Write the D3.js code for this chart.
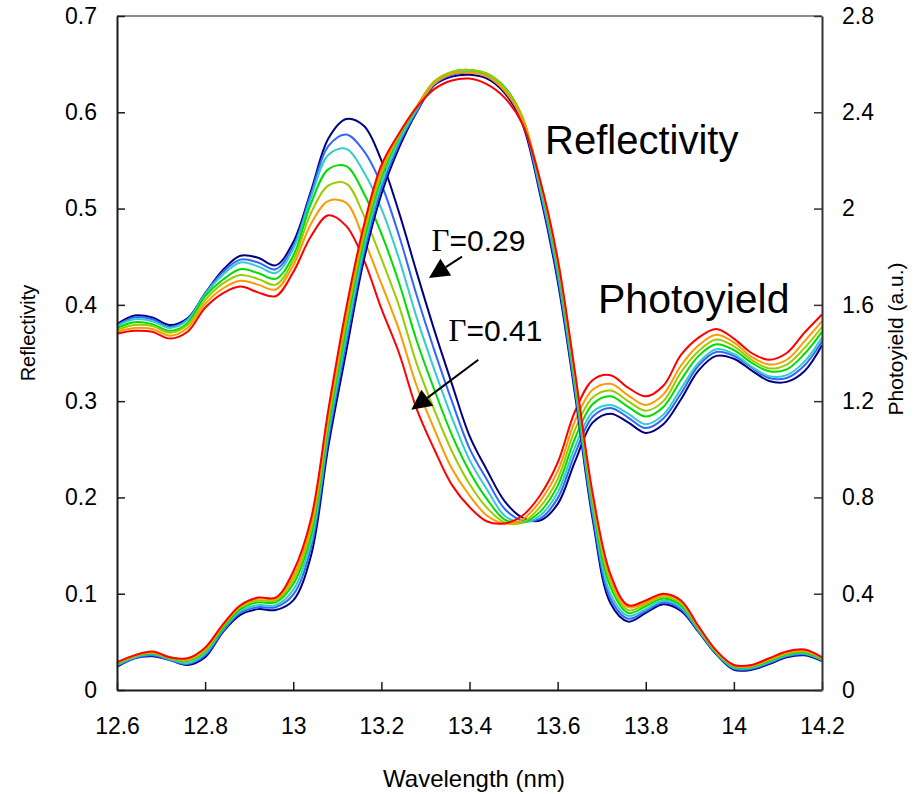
<!DOCTYPE html>
<html>
<head>
<meta charset="utf-8">
<script src="https://cdn.jsdelivr.net/npm/d3@7"></script>
<style>
  html, body { margin: 0; padding: 0; background: #fff; }
  svg { display: block; }
  text { font-family: "Liberation Sans", Arial, Helvetica, sans-serif; fill: #000; }
</style>
</head>
<body>
<svg id="chart" width="914" height="794"></svg>
<script>
// Wavelength grid (nm), shared by every curve
const wavelength = [12.60,12.64,12.68,12.72,12.76,12.80,12.84,12.88,12.92,12.96,
  13.00,13.04,13.08,13.12,13.16,13.20,13.24,13.28,13.32,13.36,
  13.40,13.44,13.48,13.52,13.56,13.60,13.64,13.68,13.72,13.76,
  13.80,13.84,13.88,13.92,13.96,14.00,14.04,14.08,14.12,14.16,14.20];

// Roughness parameter of each curve, from Γ=0.29 to Γ=0.41
const gammaLabels = ["0.29","0.31","0.33","0.35","0.37","0.39","0.41"];
const seriesColors = ["#000080","#3366ff","#33cccc","#00dd00","#99cc00","#ff9900","#ff0000"];

// Reflectivity (left axis)
const refl029 = [.024,.033,.035,.031,.026,.034,.060,.078,.084,.083,.093,.139,.254,.351,.446,.515,.563,.600,.628,.637,.639,.635,.620,.588,.515,.425,.305,.176,.090,.071,.080,.089,.082,.060,.037,.021,.021,.027,.034,.036,.030];
const refl031 = [.025,.033,.036,.031,.027,.036,.061,.080,.086,.086,.099,.147,.262,.360,.453,.521,.567,.601,.629,.639,.641,.637,.622,.591,.519,.430,.310,.181,.095,.074,.082,.091,.084,.061,.038,.022,.022,.028,.035,.037,.031];
const refl033 = [.026,.034,.037,.032,.028,.038,.063,.082,.088,.088,.104,.153,.268,.367,.459,.526,.570,.603,.630,.640,.642,.638,.624,.593,.522,.435,.314,.186,.100,.077,.084,.093,.086,.062,.038,.023,.023,.029,.036,.038,.031];
const refl035 = [.027,.035,.038,.033,.030,.040,.064,.084,.091,.091,.110,.160,.275,.376,.466,.532,.574,.605,.632,.642,.644,.640,.626,.595,.526,.440,.319,.192,.107,.080,.087,.095,.088,.063,.039,.024,.024,.030,.037,.039,.032];
const refl037 = [.028,.035,.039,.033,.031,.041,.066,.086,.093,.093,.114,.166,.281,.383,.472,.536,.576,.606,.632,.642,.644,.640,.625,.595,.528,.444,.323,.196,.112,.083,.089,.097,.090,.064,.040,.025,.025,.031,.038,.040,.033];
const refl039 = [.028,.036,.039,.034,.032,.043,.067,.087,.095,.095,.118,.171,.286,.389,.477,.540,.577,.606,.630,.640,.641,.637,.622,.593,.530,.447,.326,.200,.116,.086,.091,.099,.092,.065,.040,.025,.025,.032,.039,.041,.033];
const refl041 = [.029,.036,.040,.034,.033,.044,.068,.088,.096,.096,.123,.177,.292,.396,.482,.545,.578,.605,.624,.633,.635,.629,.615,.588,.530,.448,.328,.203,.120,.088,.093,.100,.093,.066,.041,.026,.026,.033,.040,.042,.034];

// Photoyield (right axis, a.u.)
const py029 = [1.520,1.556,1.548,1.516,1.544,1.648,1.744,1.804,1.796,1.764,1.860,2.072,2.292,2.372,2.344,2.200,1.984,1.736,1.496,1.272,1.056,0.912,0.784,0.716,0.704,0.772,0.952,1.112,1.148,1.112,1.068,1.104,1.208,1.328,1.388,1.376,1.328,1.284,1.280,1.324,1.432];
const py031 = [1.516,1.548,1.540,1.508,1.540,1.648,1.736,1.788,1.776,1.748,1.844,2.060,2.260,2.308,2.240,2.100,1.888,1.640,1.412,1.200,1.004,0.872,0.752,0.704,0.712,0.796,0.984,1.136,1.172,1.132,1.088,1.128,1.232,1.348,1.404,1.388,1.340,1.296,1.296,1.348,1.448];
const py033 = [1.512,1.540,1.532,1.504,1.536,1.644,1.724,1.776,1.760,1.732,1.832,2.044,2.224,2.248,2.152,2.000,1.792,1.548,1.332,1.132,0.956,0.832,0.724,0.696,0.724,0.820,1.012,1.156,1.184,1.148,1.104,1.144,1.252,1.360,1.416,1.396,1.344,1.304,1.308,1.364,1.464];
const py035 = [1.504,1.528,1.520,1.492,1.524,1.636,1.704,1.748,1.732,1.708,1.804,2.020,2.164,2.176,2.064,1.896,1.692,1.452,1.248,1.060,0.908,0.792,0.708,0.696,0.740,0.848,1.048,1.188,1.220,1.176,1.136,1.176,1.288,1.388,1.436,1.412,1.360,1.324,1.332,1.396,1.488];
const py037 = [1.496,1.516,1.512,1.484,1.516,1.620,1.688,1.724,1.708,1.684,1.784,1.980,2.096,2.104,1.972,1.792,1.596,1.356,1.164,0.992,0.856,0.756,0.696,0.696,0.760,0.876,1.084,1.216,1.244,1.200,1.160,1.200,1.320,1.408,1.456,1.428,1.372,1.336,1.352,1.420,1.508];
const py039 = [1.488,1.504,1.500,1.472,1.504,1.604,1.668,1.700,1.684,1.664,1.764,1.936,2.032,2.024,1.872,1.688,1.496,1.264,1.084,0.920,0.808,0.724,0.692,0.708,0.784,0.908,1.120,1.248,1.272,1.224,1.184,1.228,1.348,1.432,1.476,1.444,1.384,1.352,1.372,1.448,1.532];
const py041 = [1.480,1.492,1.488,1.460,1.488,1.588,1.648,1.676,1.652,1.636,1.736,1.884,1.972,1.928,1.788,1.584,1.400,1.168,1.000,0.852,0.760,0.700,0.692,0.724,0.808,0.944,1.160,1.288,1.308,1.256,1.220,1.264,1.392,1.464,1.500,1.460,1.400,1.372,1.400,1.484,1.560];

const reflSeries = [refl029, refl031, refl033, refl035, refl037, refl039, refl041];
const pySeries = [py029, py031, py033, py035, py037, py039, py041];

// Axis ticks
const xTicks = [12.6,12.8,13.0,13.2,13.4,13.6,13.8,14.0,14.2];
const xTickLabels = ["12.6","12.8","13","13.2","13.4","13.6","13.8","14","14.2"];
const yLeftTicks = [0,0.1,0.2,0.3,0.4,0.5,0.6,0.7];
const yLeftTickLabels = ["0","0.1","0.2","0.3","0.4","0.5","0.6","0.7"];
const yRightTicks = [0,0.4,0.8,1.2,1.6,2.0,2.4,2.8];
const yRightTickLabels = ["0","0.4","0.8","1.2","1.6","2","2.4","2.8"];

const svg = d3.select("#chart");
const plot = { left: 117, right: 822, top: 16, bottom: 690 };

const x = d3.scaleLinear().domain([12.6, 14.2]).range([plot.left, plot.right]);
const yL = d3.scaleLinear().domain([0, 0.7]).range([plot.bottom, plot.top]);
const yR = d3.scaleLinear().domain([0, 2.8]).range([plot.bottom, plot.top]);

// Top border of the plot area
svg.append("line")
  .attr("x1", plot.left).attr("x2", plot.right)
  .attr("y1", plot.top).attr("y2", plot.top)
  .attr("stroke", "#8c8c8c").attr("stroke-width", 2);

// Curves
const lineL = d3.line().x((d, i) => x(wavelength[i])).y(d => yL(d)).curve(d3.curveCatmullRom.alpha(0.5));
const lineR = d3.line().x((d, i) => x(wavelength[i])).y(d => yR(d)).curve(d3.curveCatmullRom.alpha(0.5));

const curves = svg.append("g").attr("fill", "none").attr("stroke-width", 2).attr("stroke-linejoin", "round");
pySeries.forEach((s, k) => {
  curves.append("path").attr("d", lineR(s)).attr("stroke", seriesColors[k]);
});
reflSeries.forEach((s, k) => {
  curves.append("path").attr("d", lineL(s)).attr("stroke", seriesColors[k]);
});

// Axes
function styleAxis(g, color) {
  g.select(".domain").attr("stroke", color).attr("stroke-width", 2);
  g.selectAll(".tick line").attr("stroke", color).attr("stroke-width", 1.5);
  g.selectAll(".tick text").style("font-size", "23px")
    .style("font-family", '"Liberation Sans", Arial, sans-serif').attr("fill", "#000");
}

const axB = svg.append("g").attr("transform", `translate(0,${plot.bottom})`)
  .call(d3.axisBottom(x).tickValues(xTicks).tickFormat((d, i) => xTickLabels[i])
    .tickSizeInner(-8).tickSizeOuter(0).tickPadding(28));
styleAxis(axB, "#1a1a1a");

const axL = svg.append("g").attr("transform", `translate(${plot.left},0)`)
  .call(d3.axisLeft(yL).tickValues(yLeftTicks).tickFormat((d, i) => yLeftTickLabels[i])
    .tickSizeInner(-8).tickSizeOuter(0).tickPadding(20));
styleAxis(axL, "#1a1a1a");

const axR = svg.append("g").attr("transform", `translate(${plot.right},0)`)
  .call(d3.axisRight(yR).tickValues(yRightTicks).tickFormat((d, i) => yRightTickLabels[i])
    .tickSizeInner(-8).tickSizeOuter(0).tickPadding(20));
styleAxis(axR, "#333");

// Axis titles
svg.append("text").attr("x", 474).attr("y", 787).attr("text-anchor", "middle")
  .style("font-size", "24px").text("Wavelength (nm)");
svg.append("text").attr("transform", "translate(35,333) rotate(-90)").attr("text-anchor", "middle")
  .style("font-size", "20px").text("Reflectivity");
svg.append("text").attr("transform", "translate(903,339) rotate(-90)").attr("text-anchor", "middle")
  .style("font-size", "21px").text("Photoyield (a.u.)");

// Curve family labels
svg.append("text").attr("x", 545).attr("y", 154).style("font-size", "40px").text("Reflectivity");
svg.append("text").attr("x", 598).attr("y", 313).style("font-size", "41px").text("Photoyield");

// Γ annotations with arrows
const gammaNotes = [
  { label: gammaLabels[0], tx: 431.5, ty: 250.5, from: [13.383, 0.450], to: [13.308, 0.428] },
  { label: gammaLabels[6], tx: 448.5, ty: 340.5, from: [13.420, 0.343], to: [13.268, 0.291] }
];

gammaNotes.forEach(n => {
  const t = svg.append("text").attr("x", n.tx).attr("y", n.ty);
  t.append("tspan").style("font-family", '"Liberation Serif", "Times New Roman", serif')
    .style("font-size", "31px").text("Γ");
  t.append("tspan").style("font-size", "30px").text("=" + n.label);

  const x1 = x(n.from[0]), y1 = yL(n.from[1]);
  const x2 = x(n.to[0]), y2 = yL(n.to[1]);
  const ang = Math.atan2(y2 - y1, x2 - x1);
  const headLen = 20, headHalf = 10;
  const bx = x2 - headLen * Math.cos(ang), by = y2 - headLen * Math.sin(ang);
  svg.append("line").attr("x1", x1).attr("y1", y1).attr("x2", bx).attr("y2", by)
    .attr("stroke", "#000").attr("stroke-width", 2);
  const px = -Math.sin(ang), py = Math.cos(ang);
  svg.append("polygon")
    .attr("points", [[x2, y2], [bx + headHalf * px, by + headHalf * py], [bx - headHalf * px, by - headHalf * py]]
      .map(p => p.join(",")).join(" "))
    .attr("fill", "#000");
});
</script>
</body>
</html>
